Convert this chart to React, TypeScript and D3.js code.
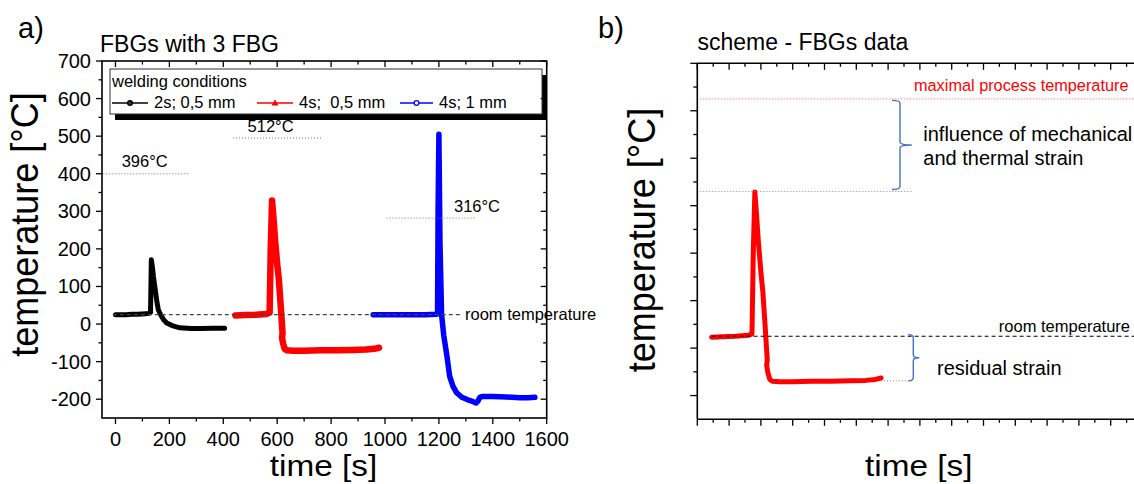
import React from "react";
import * as d3 from "d3";

// ---------- data ----------
const blackTime = [0, 20, 40, 60, 80, 100, 120, 126, 130, 133, 137, 141, 147, 153, 159, 168, 178, 190, 210, 239, 280, 320, 360, 405];
const blackTemp = [25, 25, 25, 26, 26, 27, 28, 29, 31, 171, 152, 125, 95, 62, 38, 24, 12, 3, -4, -10, -12, -12, -11, -11];

const redTime = [445, 480, 520, 560, 572, 576, 581, 586, 592, 600, 606, 613, 620, 618, 622, 628, 636, 660, 700, 760, 820, 880, 930, 960, 978];
const redTemp = [23, 24, 25, 27, 30, 200, 329, 285, 225, 160, 120, 50, -25, -36, -52, -66, -70, -71, -71, -70, -70, -69, -68, -66, -63];

const blueTime = [956, 1000, 1050, 1100, 1150, 1190, 1195, 1197, 1200, 1204, 1210, 1218, 1230, 1240, 1252, 1265, 1285, 1305, 1325, 1338, 1345, 1352, 1360, 1400, 1450, 1500, 1530, 1556];
const blueTemp = [25, 25, 25, 25, 25, 26, 27, 300, 505, 216, 25, -30, -86, -139, -165, -182, -195, -201, -206, -210, -205, -195, -193, -193, -194, -196, -196, -195];

const legendLabels = ["2s; 0,5 mm", "4s;  0,5 mm", "4s; 1 mm"];
const seriesColors = ["#000000", "#ff0000", "#0000ff"];

const peakLabels = ["396°C", "512°C", "316°C"];
const peakLevels = [400, 495, 282];
const peakFrom = [-45, 436, 1006];
const peakTo = [276, 766, 1340];
const peakLabelT = [23, 490, 1256];

const roomTemp = 25;
const maxProcessTemp = 525;
const schemePeak = 330;
const schemeResidual = -69;

const xTicksA = d3.range(0, 1601, 100);
const yTicksA = d3.range(-200, 701, 50);
const xTicksB = d3.range(400, 1801, 50);
const yTicksB = d3.range(-100, 601, 50);

// ---------- layout ----------
const W = 1134, H = 484;
const xA = d3.scaleLinear().domain([-50, 1600]).range([102, 546.7]);
const yA = d3.scaleLinear().domain([-250, 700]).range([418, 61]);
const xB = d3.scaleLinear().domain([400, 1800]).range([697.3, 1142.5]);
const yB = d3.scaleLinear().domain([-150, 600]).range([419.3, 63.3]);

const FONT = "Liberation Sans, Arial, Helvetica, sans-serif";

function zip(t: number[], v: number[]) {
  return t.map((d, i) => [d, v[i]] as [number, number]);
}

function bracePath(x: number, y1: number, y2: number, hook: number, tip: number) {
  const ym = (y1 + y2) / 2;
  const r = 3;
  return `M${x - hook},${y1} Q${x},${y1} ${x},${y1 + r} L${x},${ym - r} Q${x},${ym} ${x + tip},${ym} Q${x},${ym} ${x},${ym + r} L${x},${y2 - r} Q${x},${y2} ${x - hook},${y2}`;
}

export default function App() {
  const lineA = d3.line<[number, number]>().x((d) => xA(d[0])).y((d) => yA(d[1])).curve(d3.curveLinear);
  const lineB = d3.line<[number, number]>().x((d) => xB(d[0])).y((d) => yB(d[1])).curve(d3.curveLinear);

  const series = [zip(blackTime, blackTemp), zip(redTime, redTemp), zip(blueTime, blueTemp)];
  const widths = [5, 6.5, 5.5];

  const [ax0, ax1] = xA.range();
  const [ay0, ay1] = yA.range(); // ay0 bottom, ay1 top
  const bx0 = xB.range()[0];
  const [by0, by1] = yB.range();

  return (
    <svg width={W} height={H} style={{ position: "fixed", left: 0, top: 0, background: "#fff" }} fontFamily={FONT}>
      <rect x={0} y={0} width={W} height={H} fill="#fff" />
      {/* ===== Panel a ===== */}
      <text x={18} y={38} fontSize={29}>a)</text>
      <text x={100} y={52} fontSize={23}>FBGs with 3 FBG</text>

      {/* series */}
      {series.map((s, i) => (
        <path key={i} d={lineA(s) || ""} fill="none" stroke={seriesColors[i]} strokeWidth={widths[i]} strokeLinejoin="round" strokeLinecap="round" />
      ))}

      {/* room temperature */}
      <line x1={xA(-10)} x2={xA(1284)} y1={yA(roomTemp)} y2={yA(roomTemp)} stroke="#444" strokeWidth={1.3} strokeDasharray="4 3" />
      <text x={465} y={yA(roomTemp) + 5} fontSize={16.5}>room temperature</text>

      {/* peak marks */}
      {peakLabels.map((lab, i) => (
        <g key={lab}>
          <line x1={xA(peakFrom[i])} x2={xA(peakTo[i])} y1={yA(peakLevels[i])} y2={yA(peakLevels[i])} stroke="#777" strokeWidth={1} strokeDasharray="1 2" />
          <text x={xA(peakLabelT[i])} y={yA(peakLevels[i]) - 6.5} fontSize={16.5}>{lab}</text>
        </g>
      ))}

      {/* legend */}
      <rect x={115} y={75} width={432} height={45} fill="#000" />
      <rect x={110} y={69} width={432} height={45} fill="#fff" stroke="#333" strokeWidth={1} />
      <text x={112} y={87} fontSize={16.5}>welding conditions</text>
      {legendLabels.map((lab, i) => {
        const lx = [112, 257, 400][i];
        const lw = [36, 36, 33][i];
        const cx = lx + lw / 2;
        const cy = 103;
        return (
          <g key={lab}>
            <line x1={lx} x2={lx + lw} y1={cy} y2={cy} stroke={seriesColors[i]} strokeWidth={1.5} />
            {i === 1 ? (
              <path d={`M${cx},${cy - 3.5} L${cx + 3.5},${cy + 2.5} L${cx - 3.5},${cy + 2.5} Z`} fill={seriesColors[i]} />
            ) : (
              <circle cx={cx} cy={cy} r={2.4} fill={i === 0 ? "#333" : "#fff"} stroke={seriesColors[i]} strokeWidth={1.3} />
            )}
            <text x={lx + lw + 6} y={108} fontSize={16.5} style={{ whiteSpace: "pre" }}>{lab}</text>
          </g>
        );
      })}

      {/* axes frame */}
      <rect x={ax0} y={ay1} width={ax1 - ax0} height={ay0 - ay1} fill="none" stroke="#000" strokeWidth={1.6} />
      {xTicksA.map((t) => {
        const major = t % 200 === 0;
        const len = major ? 6 : 3.5;
        return (
          <g key={"xa" + t}>
            <line x1={xA(t)} x2={xA(t)} y1={ay0} y2={ay0 + len} stroke="#000" strokeWidth={1.3} />
            <line x1={xA(t)} x2={xA(t)} y1={ay1} y2={ay1 + len} stroke="#000" strokeWidth={1.3} />
            {major && (
              <text x={xA(t)} y={446} fontSize={20} textAnchor="middle">{t}</text>
            )}
          </g>
        );
      })}
      {yTicksA.map((v) => {
        const major = v % 100 === 0;
        const len = major ? 6 : 3.5;
        return (
          <g key={"ya" + v}>
            <line x1={ax0} x2={ax0 - len} y1={yA(v)} y2={yA(v)} stroke="#000" strokeWidth={1.3} />
            <line x1={ax1} x2={ax1 - len} y1={yA(v)} y2={yA(v)} stroke="#000" strokeWidth={1.3} />
            {major && (
              <text x={91} y={yA(v) + 7} fontSize={20} textAnchor="end">{v}</text>
            )}
          </g>
        );
      })}
      <text transform="translate(323.5,476) scale(1.15,1)" fontSize={29} textAnchor="middle">time [s]</text>
      <text transform={`translate(38,${224.5}) rotate(-90) scale(1,1.08)`} fontSize={36} textAnchor="middle">temperature [°C]</text>

      {/* ===== Panel b ===== */}
      <text x={598} y={38} fontSize={29}>b)</text>
      <text x={697.5} y={50} fontSize={23}>scheme - FBGs data</text>

      <path d={lineB(series[1]) || ""} fill="none" stroke="#ff0000" strokeWidth={5} strokeLinejoin="round" strokeLinecap="round" />

      {/* max process temperature */}
      <line x1={bx0} x2={W} y1={yB(maxProcessTemp)} y2={yB(maxProcessTemp)} stroke="#ff5555" strokeWidth={1} strokeDasharray="1 2" />
      <text x={914} y={91} fontSize={16.3} fill="#ff0000">maximal process temperature</text>

      {/* peak level */}
      <line x1={bx0} x2={911.7} y1={yB(schemePeak)} y2={yB(schemePeak)} stroke="#888" strokeWidth={1} strokeDasharray="1 2" />
      <path d={bracePath(900, yB(maxProcessTemp) + 1.5, yB(schemePeak) - 2, 8, 11.7)} fill="none" stroke="#4472c4" strokeWidth={1.4} />
      <text x={923.3} y={140.5} fontSize={20}>influence of mechanical</text>
      <text x={923.3} y={165} fontSize={20}>and thermal strain</text>

      {/* room temperature */}
      <line x1={xB(445)} x2={W} y1={yB(roomTemp)} y2={yB(roomTemp)} stroke="#000" strokeWidth={1.2} strokeDasharray="4 3" />
      <text x={1130} y={332} fontSize={16.5} textAnchor="end">room temperature</text>

      {/* residual */}
      <line x1={xB(978)} x2={913.3} y1={yB(schemeResidual)} y2={yB(schemeResidual)} stroke="#888" strokeWidth={1} strokeDasharray="1 2" />
      <path d={bracePath(913.3, yB(roomTemp) - 1.5, yB(schemeResidual), 5, 6)} fill="none" stroke="#4472c4" strokeWidth={1.4} />
      <text x={937} y={374.5} fontSize={20}>residual strain</text>

      {/* axes b */}
      <line x1={bx0} x2={bx0} y1={by1} y2={by0} stroke="#000" strokeWidth={1.6} />
      <line x1={bx0} x2={W} y1={by1} y2={by1} stroke="#000" strokeWidth={1.6} />
      <line x1={bx0} x2={W} y1={by0} y2={by0} stroke="#000" strokeWidth={1.6} />
      {xTicksB.map((t) => {
        const major = t % 100 === 0;
        const len = major ? 6.5 : 3.5;
        return (
          <g key={"xb" + t}>
            <line x1={xB(t)} x2={xB(t)} y1={by0} y2={by0 + len} stroke="#000" strokeWidth={1.3} />
            <line x1={xB(t)} x2={xB(t)} y1={by1} y2={by1 + len} stroke="#000" strokeWidth={1.3} />
          </g>
        );
      })}
      {yTicksB.map((v) => {
        const major = v % 100 === 0;
        const len = major ? 7 : 4;
        return <line key={"yb" + v} x1={bx0} x2={bx0 - len} y1={yB(v)} y2={yB(v)} stroke="#000" strokeWidth={1.3} />;
      })}
      <text transform="translate(918.8,476) scale(1.15,1)" fontSize={29} textAnchor="middle">time [s]</text>
      <text transform={`translate(655,${240}) rotate(-90) scale(1,1.08)`} fontSize={36} textAnchor="middle">temperature [°C]</text>
    </svg>
  );
}
